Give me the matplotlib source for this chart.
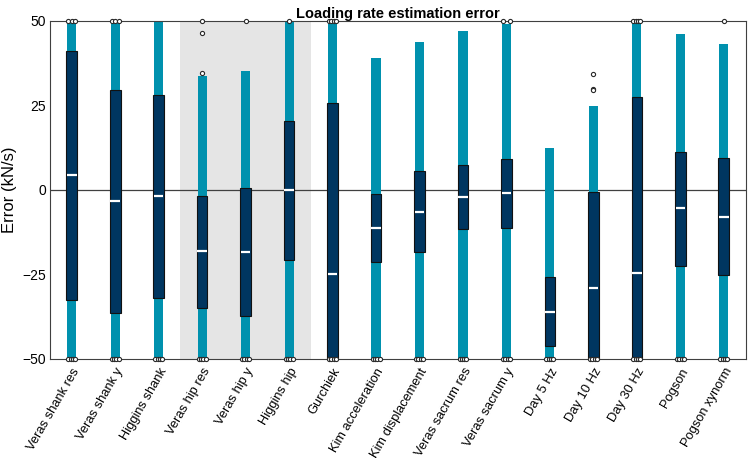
import numpy as np
import matplotlib
matplotlib.use('Agg')
import matplotlib.pyplot as plt

plt.rcParams['font.family'] = ['Liberation Sans', 'DejaVu Sans']

labels = ['Veras shank res', 'Veras shank y', 'Higgins shank', 'Veras hip res',
          'Veras hip y', 'Higgins hip', 'Gurchiek', 'Kim acceleration',
          'Kim displacement', 'Veras sacrum res', 'Veras sacrum y', 'Day 5 Hz',
          'Day 10 Hz', 'Day 30 Hz', 'Pogson', 'Pogson xynorm']

whisk_hi = [50, 50, 50, 33.7, 35.1, 50, 50, 38.9, 43.9, 47.1, 49.1, 12.3, 24.9, 50, 46.2, 43.1]
q3 = [41.2, 29.6, 28.2, -1.8, 0.5, 20.5, 25.6, -1.3, 5.5, 7.4, 9.1, -25.8, -0.6, 27.6, 11.3, 9.4]
med = [4.3, -3.4, -1.8, -18.2, -18.3, -0.1, -24.9, -11.3, -6.5, -2.0, -1.0, -36.0, -29.0, -24.5, -5.4, -8.0]
q1 = [-32.7, -36.4, -31.9, -34.8, -37.2, -20.7, -50, -21.2, -18.4, -11.6, -11.4, -46.2, -50, -50, -22.4, -25.3]
whisk_lo = [-50] * 16

out_hi = [[50, 50, 50], [50, 50, 50], [], [50, 46.4, 34.7], [50], [50], [50, 50, 50, 50],
          [], [], [], [50, 50], [], [34.3, 30.0, 29.5], [50, 50, 50, 50], [], [50]]
out_lo = [[-50, -50, -50, -50]] * 16

shade = (3.5, 6.5)

teal = '#0091ae'
navy = '#003660'

fig = plt.figure(figsize=(7.54, 4.65), dpi=100)
ax = fig.add_axes([0.0663, 0.228, 0.9225, 0.727])

x = np.arange(1, len(labels) + 1)

ax.axvspan(shade[0], shade[1], color='#e5e5e5', zorder=0, lw=0)
ax.axhline(0, color='#404040', lw=0.9, zorder=1)

# whiskers
ax.bar(x, np.array(whisk_hi) - np.array(whisk_lo), bottom=whisk_lo, width=0.21,
       color=teal, zorder=2)
# boxes
ax.bar(x, np.array(q3) - np.array(q1), bottom=q1, width=0.245, color=navy,
       edgecolor='#111111', linewidth=0.8, zorder=3)
# medians
ax.hlines(med, x - 0.11, x + 0.11, color='white', lw=1.6, zorder=4)

# outliers
for i in range(len(labels)):
    for grp in (out_hi[i], out_lo[i]):
        n = len(grp)
        if n == 0:
            continue
        vals = np.array(grp)
        at_lim = np.abs(vals) >= 50
        offs = np.zeros(n)
        k = at_lim.sum()
        if k > 1:
            offs[at_lim] = np.linspace(-0.08, 0.08, k)
        ax.scatter(x[i] + offs, vals, s=9, facecolor='white', edgecolor='#2a2a2a',
                   linewidth=0.8, zorder=6, clip_on=False)

ax.set_xlim(0.5, 16.5)
ax.set_ylim(-50, 50)
ax.set_yticks([-50, -25, 0, 25, 50])
ax.set_xticks(x)
ax.set_xticklabels(labels, rotation=60, ha='right', rotation_mode='anchor', fontsize=9.3)
ax.tick_params(axis='y', labelsize=10, length=0, pad=3)
ax.tick_params(axis='x', length=0, pad=5)
for s in ax.spines.values():
    s.set_color('#404040')
    s.set_linewidth(0.8)

ax.set_ylabel('Error (kN/s)', fontsize=12)
ax.yaxis.set_label_coords(-0.047, 0.5)
ax.set_title('Loading rate estimation error', fontsize=10.5, fontweight='bold', pad=1)

fig.savefig('out.png', dpi=100)
